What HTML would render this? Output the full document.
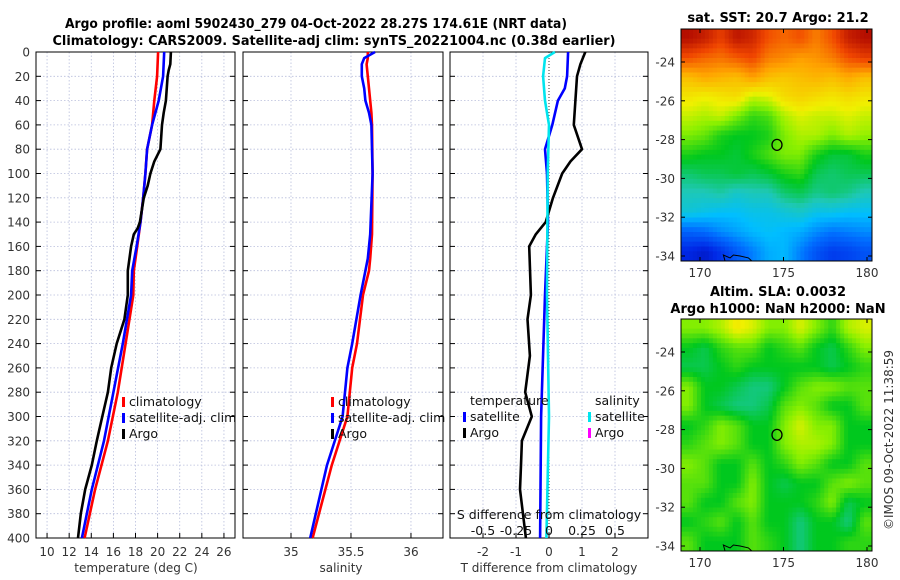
<!DOCTYPE html>
<html><head><meta charset="utf-8"><style>
body{margin:0;background:#fff;}
svg{display:block;font-family:"DejaVu Sans","Liberation Sans",sans-serif;}
.tk{font-size:12px;fill:#333;}
.ttl{font-size:13px;font-weight:bold;fill:#000;}
.lg{font-size:12.5px;fill:#111;}
</style></head><body>
<svg id="fig" width="900" height="580" viewBox="0 0 900 580" xmlns="http://www.w3.org/2000/svg">
<text class="ttl" x="316" y="28" text-anchor="middle" textLength="502" lengthAdjust="spacingAndGlyphs">Argo profile: aoml 5902430_279 04-Oct-2022 28.27S 174.61E (NRT data)</text>
<text class="ttl" x="334" y="45" text-anchor="middle" textLength="563" lengthAdjust="spacingAndGlyphs">Climatology: CARS2009. Satellite-adj clim: synTS_20221004.nc (0.38d earlier)</text>
<text class="ttl" x="778" y="22" text-anchor="middle">sat. SST: 20.7 Argo: 21.2</text>
<text class="ttl" x="778" y="296" text-anchor="middle">Altim. SLA: 0.0032</text>
<text class="ttl" x="778" y="313" text-anchor="middle">Argo h1000: NaN h2000: NaN</text>
<text class="tk" x="0" y="0" transform="translate(893,440) rotate(-90)" text-anchor="middle">©IMOS 09-Oct-2022 11:38:59</text>
</svg>
<script>
// ---- profile data (depth in m) ----
const tClimDepth=[0,20,40,60,80,100,120,140,160,180,200,240,280,320,360,400];
const tClim=[20.04,19.95,19.7,19.5,19.05,18.9,18.7,18.45,18.15,17.85,17.8,17.1,16.4,15.5,14.35,13.4];
const tSat=[20.6,20.5,20.1,19.5,19.05,18.9,18.7,18.45,18.1,17.7,17.6,16.85,16.0,15.15,14.05,13.15];
const tArgoDepth=[0,10,15,20,40,50,60,80,90,100,110,120,140,145,150,160,180,200,220,240,260,280,300,320,340,360,380,400];
const tArgo=[21.2,21.15,21.0,20.9,20.75,20.55,20.4,20.25,19.7,19.35,19.1,18.75,18.4,18.2,17.85,17.6,17.3,17.3,17.0,16.3,15.8,15.5,15.0,14.5,14.05,13.45,13.05,12.8];
const sDepth=[0,5,10,20,30,40,50,60,100,150,170,180,200,240,260,280,300,340,400];
const sClim=[35.64,35.64,35.63,35.64,35.65,35.66,35.67,35.675,35.68,35.675,35.66,35.65,35.6,35.55,35.51,35.49,35.47,35.34,35.18];
const sSat=[35.7,35.61,35.59,35.59,35.61,35.62,35.65,35.67,35.68,35.66,35.64,35.62,35.58,35.51,35.47,35.45,35.43,35.3,35.16];
const dTDepth=[0,20,30,40,60,80,100,140,200,300,400];
const dTSat=[0.58,0.55,0.48,0.27,0.1,-0.12,-0.06,-0.03,-0.12,-0.24,-0.27];
const dTArgoDepth=[0,10,20,40,60,80,90,100,120,140,150,160,200,220,250,280,300,320,340,360,400];
const dTArgo=[1.1,0.95,0.85,0.8,0.75,1.0,0.65,0.4,0.12,-0.1,-0.4,-0.6,-0.55,-0.65,-0.58,-0.72,-0.52,-0.82,-0.85,-0.88,-0.7];
const dSDepth=[0,5,20,40,50,60,100,200,300,400];
const dSSat=[0.045,-0.03,-0.045,-0.03,-0.015,0,-0.01,-0.015,0,-0.02];
// ---- tick labels ----
const depthTicks=[0,20,40,60,80,100,120,140,160,180,200,220,240,260,280,300,320,340,360,380,400];
const tTicks=[10,12,14,16,18,20,22,24,26];
const sTicks=["35","35.5","36"];
const dTTicks=[-2,-1,0,1,2];
const dSTicks=["-0.5","-0.25","0","0.25","0.5"];
const latTicks=[-24,-26,-28,-30,-32,-34];
const lonTicks=[170,175,180];
const argoPos=[174.61,-28.27];
// ---- map data (rows top->bottom, 12x12) ----
const sstRows=[
[23.8,23.6,23.2,23.7,23.5,23.0,22.8,23.0,22.6,23.0,23.6,23.8],
[23.0,22.8,22.7,22.9,23.1,22.6,22.5,22.3,22.4,22.6,23.0,23.2],
[22.0,22.2,22.1,22.0,22.3,22.0,21.9,22.0,22.1,22.0,22.2,22.0],
[21.6,21.5,21.6,21.7,21.3,21.4,21.7,21.8,21.7,21.6,21.7,21.6],
[21.3,21.2,21.3,21.0,20.7,20.8,21.2,21.4,21.3,21.3,21.4,21.3],
[21.0,20.9,20.6,20.5,20.5,20.6,21.0,21.2,21.2,21.0,21.2,21.1],
[20.6,20.5,20.5,20.4,20.6,20.8,21.0,21.0,20.6,20.4,20.4,20.6],
[20.2,20.3,20.3,20.4,20.3,20.4,20.6,20.7,20.3,20.2,20.3,20.3],
[19.9,19.9,20.0,19.8,19.9,19.9,20.2,20.3,20.1,20.2,20.1,19.9],
[19.7,19.6,19.5,19.5,19.6,19.6,19.7,19.8,19.6,19.6,19.5,19.5],
[18.6,18.7,19.0,19.2,19.4,19.5,19.4,19.3,19.0,18.8,18.9,19.0],
[17.8,17.6,18.0,18.5,18.9,19.3,19.4,18.9,18.4,18.1,18.2,18.4]];
const slaRows=[
[0.03,0.03,0.04,0.06,0.05,0.03,0.03,0.05,0.03,0.01,0.04,0.05],
[0.00,-0.01,0.01,0.02,0.02,0.00,0.01,0.02,0.00,-0.01,0.01,0.03],
[-0.01,-0.01,0.00,0.01,0.00,0.00,0.00,0.00,0.00,-0.01,0.00,0.01],
[0.03,0.00,0.00,-0.01,-0.02,-0.02,0.00,0.02,0.03,0.03,0.02,0.02],
[0.03,0.00,-0.01,-0.02,-0.02,-0.01,0.02,0.03,0.02,0.00,0.00,0.02],
[0.00,0.01,0.03,0.02,0.00,0.00,0.03,0.05,0.03,0.03,0.00,0.00],
[0.01,0.02,0.03,0.02,0.00,0.00,0.03,0.04,0.04,0.03,0.00,0.00],
[0.03,0.02,0.00,0.00,0.02,0.00,0.01,0.03,0.02,0.00,0.00,0.02],
[0.02,0.02,0.00,0.00,0.03,0.00,-0.01,0.00,0.00,0.02,0.03,0.02],
[0.02,0.00,0.00,0.02,0.03,0.00,0.00,0.00,0.01,0.03,-0.01,0.00],
[0.00,0.01,0.02,0.00,0.02,0.00,0.00,-0.02,0.00,0.00,-0.02,0.02],
[0.02,0.00,0.00,0.00,0.02,0.01,0.00,-0.02,0.00,0.00,0.01,0.01]];

const NS='http://www.w3.org/2000/svg';
const svg=document.getElementById('fig');
function mk(tag,at,parent){const e=document.createElementNS(NS,tag);for(const k in at)e.setAttribute(k,at[k]);(parent||svg).appendChild(e);return e;}
const Y0=52,Y1=538;
const yD=d=>Y0+d/400*(Y1-Y0);
function lin(a,b,p,q){return v=>p+(v-a)/(b-a)*(q-p);}
const xT=lin(9,27,36,235), xS=lin(34.6,36.267,243,443), xDT=lin(-3,3,450,648), xDS=lin(-0.75,0.75,450,648);

function panel(name,x0,x1,vGrid,showY){
  const g=mk('g',{});
  
  
  depthTicks.forEach(d=>{const y=yD(d);
    mk('line',{x1:x0,x2:x1,y1:y,y2:y,stroke:'#b8bedc','stroke-width':0.8,'stroke-dasharray':'1.5,2'},g);
    mk('line',{x1:x0,x2:x0+5,y1:y,y2:y,stroke:'#000'},g);mk('line',{x1:x1-5,x2:x1,y1:y,y2:y,stroke:'#000'},g);
    if(showY){const t=mk('text',{x:30,y:y+4.5,'text-anchor':'end',class:'tk'},g);t.textContent=d;
      }
  });
  vGrid.forEach(x=>mk('line',{x1:x,x2:x,y1:Y0,y2:Y1,stroke:'#b8bedc','stroke-width':0.8,'stroke-dasharray':'1.5,2'},g));
  mk('rect',{x:x0,y:Y0,width:x1-x0,height:Y1-Y0,fill:'none',stroke:'#000','stroke-width':1},g);
  return g;
}
function line(g,xs,ds,xf,col,name,w){
  const p=xs.map((v,i)=>xf(v).toFixed(1)+','+yD(ds[i]).toFixed(1)).join(' ');
  const e=mk('polyline',{points:p,fill:'none',stroke:col,'stroke-width':w||2.6,'stroke-linejoin':'round'},g);
  
  
}
function txt(s,x,y,cls,anchor,name,g){const t=mk('text',{x:x,y:y,class:cls,'text-anchor':anchor||'start'},g);t.textContent=s;
  return t;}
function legMark(x,y,col,g){mk('rect',{x:x,y:y-10,width:3,height:10,fill:col},g);}

// Panel 1 temperature
const p1=panel('temperature-panel',36,235,tTicks.map(xT),true);
tTicks.forEach(v=>{txt(String(v),xT(v),556,'tk','middle','temperature-tick-label',p1);
  mk('line',{x1:xT(v),x2:xT(v),y1:Y1,y2:Y1-5,stroke:'#000'},p1);});
txt('temperature (deg C)',136,572,'tk','middle','temperature-axis-title',p1);
line(p1,tClim,tClimDepth,xT,'#ff0000','temperature-climatology-line');
line(p1,tSat,tClimDepth,xT,'#0000ff','temperature-satellite-line');
line(p1,tArgo,tArgoDepth,xT,'#000','temperature-argo-line');
[['climatology','#ff0000',406],['satellite-adj. clim','#0000ff',422],['Argo','#000',438]].forEach(a=>{legMark(122,a[2]+1,a[1],p1);txt(a[0],129,a[2],'lg','start','temperature-legend-entry',p1);});

// Panel 2 salinity
const p2=panel('salinity-panel',243,443,[35,35.5,36].map(xS),false);
sTicks.forEach(v=>{txt(v,xS(+v),556,'tk','middle','salinity-tick-label',p2);
  mk('line',{x1:xS(+v),x2:xS(+v),y1:Y1,y2:Y1-5,stroke:'#000'},p2);});
txt('salinity',341,572,'tk','middle','salinity-axis-title',p2);
line(p2,sClim,sDepth,xS,'#ff0000','salinity-climatology-line');
line(p2,sSat,sDepth,xS,'#0000ff','salinity-satellite-line');
[['climatology','#ff0000',406],['satellite-adj. clim','#0000ff',422],['Argo','#000',438]].forEach(a=>{legMark(331,a[2]+1,a[1],p2);txt(a[0],338,a[2],'lg','start','salinity-legend-entry',p2);});

// Panel 3 differences
const p3=panel('difference-panel',450,648,[-2,-1,1,2].map(xDT),false);
mk('line',{x1:xDT(0),x2:xDT(0),y1:Y0,y2:Y1,stroke:'#333','stroke-width':1,'stroke-dasharray':'1,2'},p3);
dTTicks.forEach(v=>{txt(String(v),xDT(v),556,'tk','middle','t-diff-tick-label',p3);
  mk('line',{x1:xDT(v),x2:xDT(v),y1:Y1,y2:Y1-5,stroke:'#000'},p3);});
txt('T difference from climatology',549,572,'tk','middle','t-diff-axis-title',p3);
line(p3,dTSat,dTDepth,xDT,'#0000ff','t-diff-satellite-line');
line(p3,dTArgo,dTArgoDepth,xDT,'#000','t-diff-argo-line');
line(p3,dSSat,dSDepth,xDS,'#00e5ee','s-diff-satellite-line');
txt('S difference from climatology',549,519,'lg','middle','s-diff-axis-title',p3);
dSTicks.forEach(v=>txt(v,xDS(+v),535,'lg','middle','s-diff-tick-label',p3));
txt('temperature',470,405,'lg','start','legend-temperature-heading',p3);
txt('salinity',595,405,'lg','start','legend-salinity-heading',p3);
legMark(463,422,'#0000ff',p3);txt('satellite',470,421,'lg','start','legend-t-satellite',p3);
legMark(463,438,'#000',p3);txt('Argo',470,437,'lg','start','legend-t-argo',p3);
legMark(588,422,'#00e5ee',p3);txt('satellite',595,421,'lg','start','legend-s-satellite',p3);
legMark(588,438,'#ff00ff',p3);txt('Argo',595,437,'lg','start','legend-s-argo',p3);

// colormap
const stops=[[0,[0,0,140]],[0.12,[0,40,230]],[0.25,[0,110,255]],[0.35,[0,190,255]],[0.42,[30,200,180]],[0.5,[0,200,30]],[0.58,[140,240,0]],[0.64,[240,240,0]],[0.75,[255,165,0]],[0.87,[240,70,0]],[1,[165,0,0]]];
function cmap(t){t=Math.max(0,Math.min(1,t));for(let i=1;i<stops.length;i++){if(t<=stops[i][0]){const a=stops[i-1],b=stops[i],f=(t-a[0])/(b[0]-a[0]);
  return 'rgb('+a[1].map((c,k)=>Math.round(c+f*(b[1][k]-c))).join(',')+')';}}return 'rgb(165,0,0)';}
function sample(rows,fi,fj){const nr=rows.length,nc=rows[0].length;
  fi=Math.max(0,Math.min(nr-1,fi));fj=Math.max(0,Math.min(nc-1,fj));
  const i0=Math.floor(fi),j0=Math.floor(fj),i1=Math.min(nr-1,i0+1),j1=Math.min(nc-1,j0+1),a=fi-i0,b=fj-j0;
  return rows[i0][j0]*(1-a)*(1-b)+rows[i0][j1]*(1-a)*b+rows[i1][j0]*a*(1-b)+rows[i1][j1]*a*b;}

function map(name,top,rows,vmin,vmax){
  const x0=681,x1=872,bottom=top+232;
  const lonX=lin(170,180,700,867), latY=lin(-24,-34,top+33,top+227);
  const g=mk('g',{});
  
  
  const nr=rows.length,nc=rows[0].length,up=4,NR=nr*up,NC=nc*up,cw=(x1-x0)/NC,ch=(bottom-top)/NR;
  for(let i=0;i<NR;i++)for(let j=0;j<NC;j++){
    const v=sample(rows,(i+0.5)/up-0.5,(j+0.5)/up-0.5);
    const c=mk('rect',{x:(x0+j*cw).toFixed(2),y:(top+i*ch).toFixed(2),width:(cw+0.5).toFixed(2),height:(ch+0.5).toFixed(2),fill:cmap((v-vmin)/(vmax-vmin))},g);
    
    
  }
  mk('polyline',{points:`${lonX(171.5)},${bottom} ${lonX(171.4)},${latY(-33.95)} ${lonX(171.8)},${latY(-34.1)} ${lonX(172)},${latY(-33.95)} ${lonX(172.4)},${latY(-34.0)} ${lonX(172.9)},${latY(-34.1)} ${lonX(173.1)},${bottom}`,fill:'none',stroke:'#000','stroke-width':1},g);
  mk('rect',{x:x0,y:top,width:x1-x0,height:bottom-top,fill:'none',stroke:'#000'},g);
  latTicks.forEach(v=>{const y=latY(v);mk('line',{x1:x0,x2:x0+4,y1:y,y2:y,stroke:'#000'},g);mk('line',{x1:x1-4,x2:x1,y1:y,y2:y,stroke:'#000'},g);
    txt(String(v),675,y+4.5,'tk','end','lat-tick-label',g);});
  lonTicks.forEach(v=>{const x=lonX(v);mk('line',{x1:x,x2:x,y1:bottom,y2:bottom-4,stroke:'#000'},g);mk('line',{x1:x,x2:x,y1:top,y2:top+4,stroke:'#000'},g);
    txt(String(v),x,bottom+16,'tk','middle','lon-tick-label',g);});
  const c=mk('ellipse',{cx:lonX(argoPos[0]),cy:latY(argoPos[1]),rx:5,ry:5.5,fill:'none',stroke:'#000','stroke-width':1.3},g);
  
  
}
map('sst-map',29,sstRows,17,24);
map('sla-map',319,slaRows,-0.2,0.2);
</script>
</body></html>
